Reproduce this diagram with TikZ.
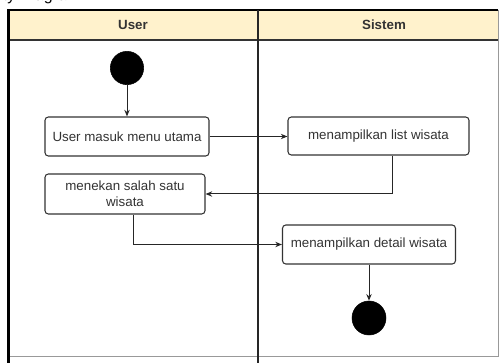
\documentclass[tikz,border=0pt]{standalone}
\usepackage{fontspec}
\setmainfont{Liberation Sans}
\usetikzlibrary{arrows.meta,calc}
\definecolor{headfill}{HTML}{FFF2CC}
\definecolor{ink}{HTML}{333333}
\begin{document}
\begin{tikzpicture}[x=0.75pt,y=-0.75pt,
  actbox/.style={draw=ink,line width=0.8pt,rounded corners=2.5pt,fill=white,
    text=ink,font=\fontsize{10}{12}\selectfont,align=center,inner sep=0pt},
  flow/.style={draw=black!85,line width=0.75pt,-{Stealth[length=5pt,width=4pt]}},
  dot/.style={circle,fill=black,draw=black,inner sep=0pt},
  lanetitle/.style={font=\bfseries\fontsize{10}{12}\selectfont,text=ink}]
\useasboundingbox (0,0) rectangle (500,363);
% title above the swimlanes, only its lower part lies on the page
\node[anchor=base east,font=\fontsize{12}{14}\selectfont] (title) at (85,1) {Activity Diagram};
% swimlane header band
\fill[headfill] (8.5,10) rectangle (498,40);
\draw[ink,line width=0.8pt] (8.5,40) -- (498,40);
\draw[black!40,line width=0.5pt] (498,10) -- (498,356) -- (8.5,356);
\draw[black,line width=1.8pt] (8.5,363) -- (8.5,10) -- (498,10);
\draw[black!85,line width=1pt] (258,10) -- (258,363);
\node[lanetitle] (laneuser) at (133,25) {User};
\node[lanetitle] (lanesys) at (384,25) {Sistem};
% activity nodes (sizes in pt: 0.75pt per unit)
\node[dot,minimum size=25pt] (start) at (127,68) {};
\node[actbox,minimum width=123pt,minimum height=29.25pt] (b1) at (127,136.5) {User masuk menu utama};
\node[actbox,minimum width=135.75pt,minimum height=28.5pt] (b2) at (378.5,136) {menampilkan list wisata};
\node[actbox,minimum width=120pt,minimum height=30pt] (b3) at (125,194) {menekan salah satu\\wisata};
\node[actbox,minimum width=129.75pt,minimum height=29.25pt] (b4) at (369,244.5) {menampilkan detail wisata};
\node[dot,minimum size=25.5pt] (end) at (369,318) {};
% transitions
\draw[flow] (start) -- (b1);
\draw[flow] (b1) -- (b1 -| b2.west);
\draw[flow] ($(b2.south)+(13.5,0)$) |- (b3.east);
\draw[flow] ($(b3.south)+(8,0)$) |- (b4.west);
\draw[flow] (b4) -- (end);
\end{tikzpicture}
\end{document}
